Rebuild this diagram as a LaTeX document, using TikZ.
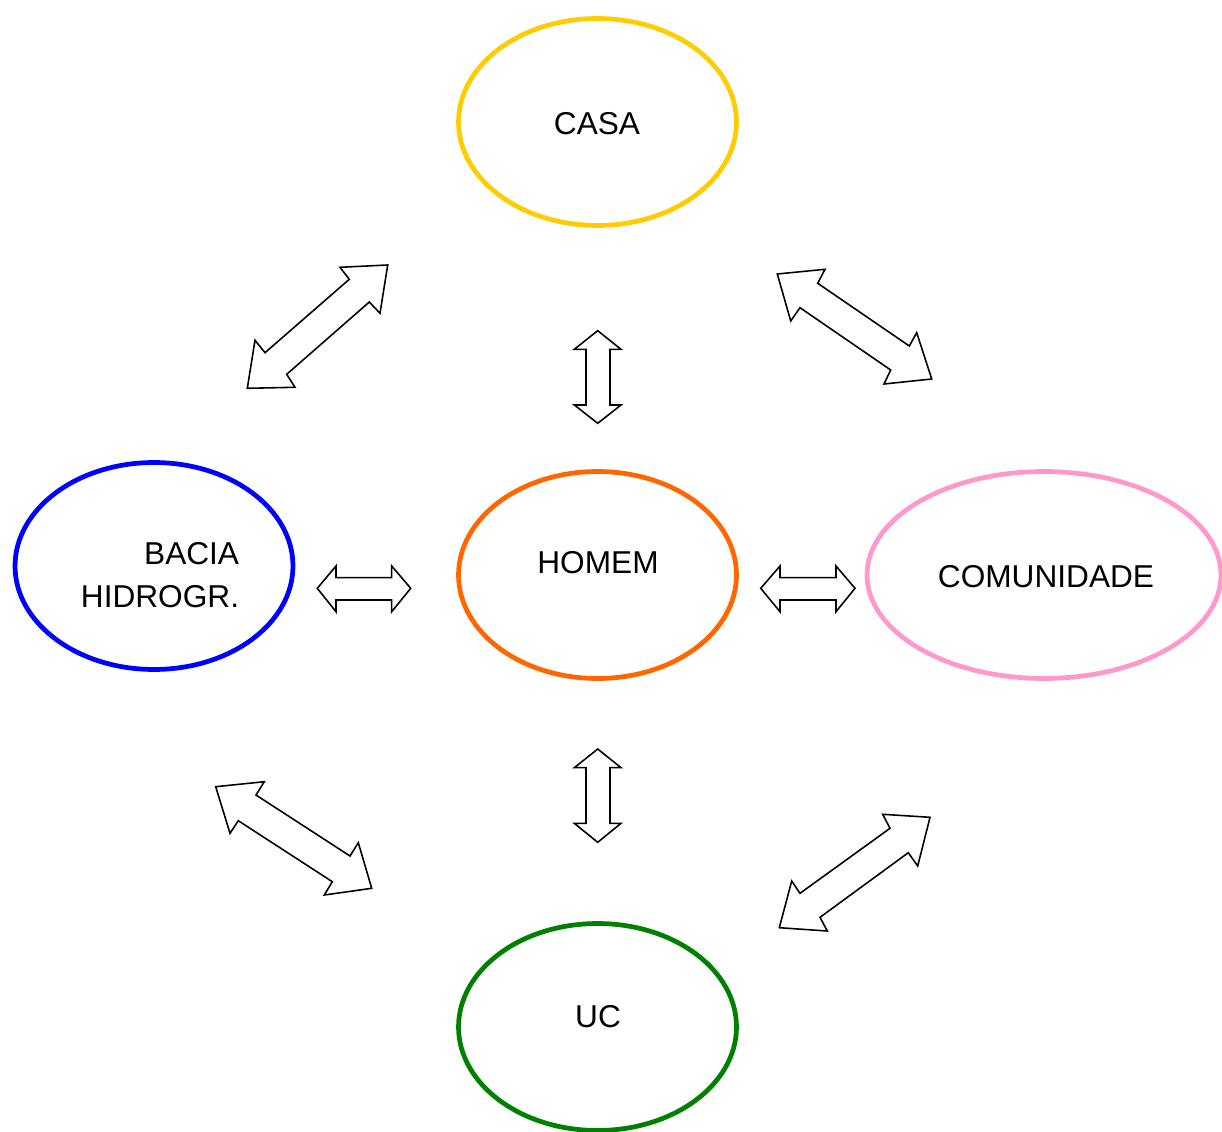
\documentclass[tikz,border=0pt]{standalone}
\usepackage{fontspec}
\setmainfont{Liberation Sans}
\usetikzlibrary{shapes.geometric}
\definecolor{casac}{HTML}{FFCC00}
\definecolor{homemc}{HTML}{FF6600}
\definecolor{baciac}{HTML}{0000FF}
\definecolor{comc}{HTML}{FF99CC}
\definecolor{ucc}{HTML}{008000}
\tikzset{
  oval/.style={ellipse, draw, line width=2.7pt, inner sep=0pt, outer sep=0pt,
    minimum width=5.56cm, minimum height=4.14cm},
  lbl/.style={inner sep=0pt, font=\fontsize{18}{24.4}\selectfont},
  blockarrow/.style={draw=black, fill=white, line width=0.9pt, line join=miter},
}
\begin{document}
\begin{tikzpicture}[x=0.02cm, y=-0.02cm]
\useasboundingbox (0,0) rectangle (1222,1131);
% ellipses
\node[oval, draw=casac] (casa) at (597.5,122) {};
\node[oval, draw=homemc] (homem) at (597.5,575) {};
\node[oval, draw=baciac] (bacia) at (154,566) {};
\node[oval, draw=comc, minimum width=7.08cm] (com) at (1044,575) {};
\node[oval, draw=ucc] (uc) at (597.5,1027) {};
% texts
\node[lbl] (tcasa) at (597,124) {CASA};
\node[lbl] (thomem) at (598,563) {HOMEM};
\node[lbl] (tcom) at (1046,577) {COMUNIDADE};
\node[lbl] (tuc) at (598,1017) {UC};
\node[lbl, align=right] (tbacia) at (160,575.5) {BACIA\\HIDROGR.};
% vertical arrow top
\draw[blockarrow] (597.7,330.7) -- (621,349.3) -- (610,349.3) -- (610,405) -- (621,405)
  -- (597.7,423.3) -- (574.3,405) -- (586,405) -- (586,349.3) -- (574.3,349.3) -- cycle;
% vertical arrow bottom
\draw[blockarrow] (597.7,749) -- (621,767.7) -- (610,767.7) -- (610,823.3) -- (621,823.3)
  -- (597.7,842.3) -- (574.3,823.3) -- (586,823.3) -- (586,767.7) -- (574.3,767.7) -- cycle;
% horizontal arrow left
\draw[blockarrow] (317.3,588.3) -- (336,566) -- (336,577.7) -- (391.7,577.7) -- (391.7,566)
  -- (410.7,588.3) -- (391.7,611.7) -- (391.7,600) -- (336,600) -- (336,611.7) -- cycle;
% horizontal arrow right
\draw[blockarrow] (760.7,588.3) -- (780,566) -- (780,577.7) -- (836,577.7) -- (836,566)
  -- (855,588.3) -- (836,611.7) -- (836,600) -- (780,600) -- (780,611.7) -- cycle;
% diagonal top-left
\draw[blockarrow] (387.7,265) -- (340,267.3) -- (349.3,279.3) -- (265,352.7) -- (255,340.3)
  -- (247.3,388.3) -- (295,387.3) -- (286.7,374.3) -- (369.3,302) -- (380,313.3) -- cycle;
% diagonal top-right
\draw[blockarrow] (777.3,274) -- (825,269.3) -- (817.7,283.3) -- (909.3,346) -- (916.7,332.7)
  -- (931.7,379) -- (884,384) -- (890.7,370) -- (800,307.7) -- (790.7,321) -- cycle;
% diagonal bottom-left
\draw[blockarrow] (215.7,786.7) -- (264.3,781.7) -- (256,795) -- (350,856) -- (358.3,842.7)
  -- (371.7,888.3) -- (324.3,895) -- (332.3,881.7) -- (238.3,820.7) -- (230,833.3) -- cycle;
% diagonal bottom-right
\draw[blockarrow] (930,817.3) -- (882.7,814.3) -- (890,828.3) -- (800,893.3) -- (791.7,881)
  -- (779.3,927.7) -- (827.3,931) -- (820,917.3) -- (908.3,852.7) -- (917.7,866) -- cycle;
\end{tikzpicture}
\end{document}
